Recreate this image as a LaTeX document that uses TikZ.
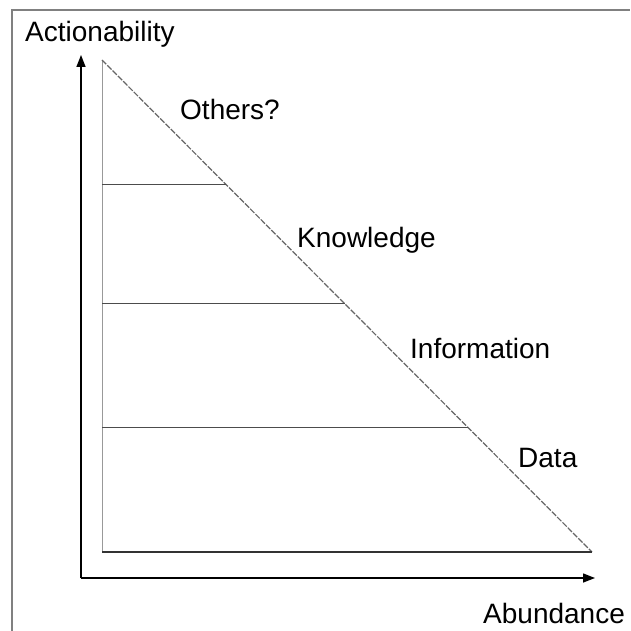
\documentclass[tikz,border=0pt]{standalone}
\usepackage{fontspec}
\setmainfont{Liberation Sans}
\usepackage{tikz}
\usetikzlibrary{arrows.meta}

\tikzset{
    lbl/.style={anchor=base west, inner sep=0pt, font=\fontsize{28}{32}\selectfont},
    tier/.style={line width=1pt, black!70},
    axis/.style={-{Triangle[length=12pt, width=9pt]}, line width=1.4pt}
}

\begin{document}
\begin{tikzpicture}[x=1pt, y=-1pt]
    \useasboundingbox (0,0) rectangle (630,631);
    % Frame
    \draw[line width=2pt, gray] (12,631) -- (12,10) -- (630,10);
    % Corners of the triangle
    \coordinate (top) at (102,60);
    \coordinate (left) at (102,552);
    \coordinate (right) at (592,552);
    \coordinate (origin) at (81,578);
    % Axes
    \draw[axis] (origin) -- (81,55) coordinate (yend);
    \draw[axis] (origin) -- (595,578) coordinate (xend);
    % Triangle
    \draw[gray!80, line width=0.8pt] (top) -- (left);
    \draw[black!60, line width=1.2pt, dash pattern=on 6pt off 1.5pt] (top) -- (right);
    \draw[line width=1.6pt, black!80] (left) -- (right);
    % Tiers
    \foreach \y/\xe in {184/226,303/345,427/468}
        \draw[tier] (102,\y) -- (\xe,\y);
    % Labels
    \node[lbl] (act) at (25,42) {Actionability};
    \node[lbl] (others) at (180,120) {Others?};
    \node[lbl] (know) at (297,247) {Knowledge};
    \node[lbl] (info) at (410,358) {Information};
    \node[lbl] (data) at (518,467) {Data};
    \node[lbl] (abund) at (483,623) {Abundance};
\end{tikzpicture}
\end{document}
